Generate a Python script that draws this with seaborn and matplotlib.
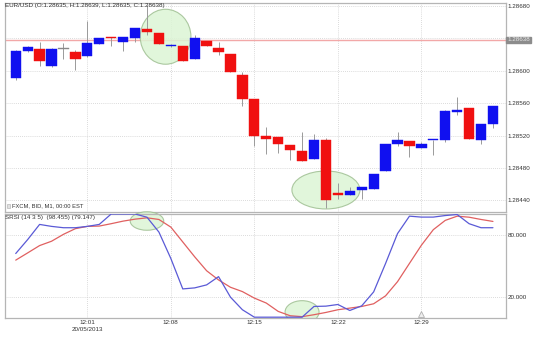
import numpy as np
import pandas as pd
import matplotlib
matplotlib.use("Agg")
import matplotlib.pyplot as plt
from matplotlib.patches import Ellipse, Rectangle
import matplotlib.transforms as mtransforms
import seaborn as sns

# ---------------- data ----------------
minutes = list(range(41))  # 11:55 ... 12:35, one candle per minute
opens = [1.28591, 1.28624, 1.28627, 1.28606, 1.28627, 1.28623, 1.28618, 1.28633, 1.28642, 1.28635,
         1.28640, 1.28652, 1.28647, 1.28630, 1.28630, 1.28614, 1.28637, 1.28628, 1.28621, 1.28595,
         1.28565, 1.28519, 1.28518, 1.28508, 1.28501, 1.28491, 1.28515, 1.28449, 1.28447, 1.28453,
         1.28454, 1.28476, 1.28510, 1.28513, 1.28504, 1.28514, 1.28514, 1.28549, 1.28554, 1.28515,
         1.28534]
highs = [1.28626, 1.28630, 1.28636, 1.28628, 1.28634, 1.28626, 1.28662, 1.28641, 1.28642, 1.28642,
         1.28653, 1.28681, 1.28647, 1.28633, 1.28630, 1.28644, 1.28637, 1.28635, 1.28621, 1.28599,
         1.28565, 1.28530, 1.28518, 1.28508, 1.28524, 1.28522, 1.28517, 1.28461, 1.28457, 1.28456,
         1.28473, 1.28509, 1.28524, 1.28513, 1.28512, 1.28515, 1.28552, 1.28567, 1.28554, 1.28534,
         1.28556]
lows = [1.28589, 1.28623, 1.28606, 1.28605, 1.28615, 1.28601, 1.28617, 1.28633, 1.28631, 1.28625,
        1.28635, 1.28644, 1.28633, 1.28629, 1.28612, 1.28614, 1.28630, 1.28620, 1.28598, 1.28556,
        1.28507, 1.28497, 1.28499, 1.28490, 1.28489, 1.28491, 1.28430, 1.28442, 1.28447, 1.28442,
        1.28454, 1.28476, 1.28507, 1.28494, 1.28504, 1.28496, 1.28512, 1.28545, 1.28516, 1.28510,
        1.28529]
closes = [1.28625, 1.28629, 1.28612, 1.28627, 1.28627, 1.28614, 1.28634, 1.28641, 1.28640, 1.28642,
          1.28653, 1.28648, 1.28633, 1.28632, 1.28612, 1.28640, 1.28630, 1.28623, 1.28598, 1.28565,
          1.28519, 1.28516, 1.28510, 1.28502, 1.28489, 1.28515, 1.28440, 1.28446, 1.28452, 1.28456,
          1.28473, 1.28509, 1.28514, 1.28507, 1.28509, 1.28515, 1.28550, 1.28552, 1.28516, 1.28534,
          1.28556]
srsi_k = [61.7, 75.2, 89.9, 88.0, 86.7, 86.7, 88.0, 89.9, 100.0, 100.0,
          100.0, 96.9, 82.5, 56.9, 27.4, 28.4, 31.3, 39.3, 19.4, 7.2,
          0.0, 0.0, 0.0, 0.0, 0.0, 10.4, 10.7, 12.3, 6.5, 11.0,
          24.5, 52.1, 81.0, 97.9, 97.0, 97.0, 98.5, 99.5, 90.6, 86.7,
          86.7]
srsi_d = [55.3, 62.3, 69.4, 73.6, 80.3, 85.8, 88.0, 88.3, 90.6, 93.1,
          95.0, 96.3, 94.7, 87.3, 72.9, 58.5, 45.0, 36.1, 29.0, 24.8,
          18.5, 13.7, 5.6, 1.4, 0.5, 2.4, 4.6, 7.2, 8.8, 10.4,
          13.0, 20.7, 34.4, 52.1, 69.7, 84.8, 93.8, 97.9, 96.9, 94.7,
          92.8]
time_tick_idx = [6, 13, 20, 27, 34]
time_tick_labels = ["12:01\n20/05/2013", "12:08", "12:15", "12:22", "12:29"]
price_ticks = [1.28440, 1.28480, 1.28520, 1.28560, 1.28600, 1.28640, 1.28680]
srsi_ticks = [20, 80]
last_price = 1.28638
title_text = "EUR/USD (O:1.28635, H:1.28639, L:1.28635, C:1.28638)"
source_text = "FXCM, BID, M1, 00:00 EST"
srsi_text = "SRSI (14 3 5)  (98.455) (79.147)"

# ---------------- style ----------------
sns.set_theme(style="white")
plt.rcParams['font.family'] = ['Liberation Sans', 'DejaVu Sans']
FS = 4.5
TXT = '#333333'
GRID = '#cfcfcf'
SPINE = '#b5b5b5'
BLUE = '#1010f0'
RED = '#f01010'

W, H = 533, 337
fig = plt.figure(figsize=(W / 100, H / 100), dpi=100)
fig.patch.set_facecolor('white')

def frac(l, t, r, b):
    return [l / W, 1 - b / H, (r - l) / W, (b - t) / H]

ax1 = fig.add_axes(frac(5, 3, 505.6, 212))
ax2 = fig.add_axes(frac(5, 214, 505.6, 317.7), sharex=ax1)

x = np.array(minutes, dtype=float)
o = np.array(opens); c = np.array(closes); hi = np.array(highs); lo = np.array(lows)

# ---------- top panel ----------
ax1.set_xlim(-0.9, 41.06)
ax1.set_ylim(1.284255, 1.286837)
for t in price_ticks:
    ax1.axhline(t, color=GRID, lw=0.6, ls=(0, (1, 1.5)), zorder=0)
for i in time_tick_idx:
    ax1.axvline(i, color=GRID, lw=0.6, ls=(0, (1, 1.5)), zorder=0)
ax1.axhline(last_price, color='#f2a8a8', lw=1.0, zorder=1)

ax1.add_patch(Ellipse((12.56, 1.286420), 4.25, 0.000679, facecolor='#dcf5d5',
                      edgecolor='#9fbf92', lw=0.8, alpha=0.85, zorder=1.5))
ax1.add_patch(Ellipse((26.0, 1.284527), 5.7, 0.000469, facecolor='#dcf5d5',
                      edgecolor='#9fbf92', lw=0.8, alpha=0.85, zorder=1.5))

colors = [BLUE if cc > oo else (RED if cc < oo else '#888888') for oo, cc in zip(o, c)]
ax1.vlines(x, lo, hi, color='#9a9a9a', lw=0.7, zorder=2)
body_bottom = np.minimum(o, c)
body_h = np.maximum(np.abs(c - o), 0.000012)
ax1.bar(x, body_h, bottom=body_bottom, width=0.86, color=colors, edgecolor=colors,
        lw=0.3, zorder=3)

ax1.yaxis.tick_right()
ax1.set_yticks(price_ticks)
ax1.set_yticklabels([f"{t:.5f}" if abs(t - 1.28640) > 1e-7 else "" for t in price_ticks])
ax1.tick_params(axis='y', length=0, pad=1.5, labelsize=FS, labelcolor=TXT)
ax1.tick_params(axis='x', length=0, labelbottom=False)
for s in ax1.spines.values():
    s.set_color(SPINE); s.set_linewidth(0.9)

ax1.text(0.0, 0.9885, title_text, transform=ax1.transAxes, fontsize=FS, color=TXT,
         ha='left', va='center')
ax1.text(0.014, 0.028, source_text, transform=ax1.transAxes, fontsize=FS * 0.92, color=TXT,
         ha='left', va='center')
ax1.add_patch(Rectangle((0.003, 0.018), 0.006, 0.022, transform=ax1.transAxes,
                        facecolor='#e0e0e0', edgecolor='#aaaaaa', lw=0.4, clip_on=False))
# last price box
ax1.text(1.003, (last_price - 1.284255) / (1.286837 - 1.284255), f"{last_price:.5f}",
         transform=ax1.transAxes, fontsize=FS, color='#e8e8e8', ha='left', va='center',
         bbox=dict(boxstyle='square,pad=0.12', facecolor='#8c8c8c', edgecolor='#8c8c8c'))

# ---------- lower panel ----------
df = pd.DataFrame({'minute': minutes * 2,
                   'value': srsi_k + srsi_d,
                   'series': ['K'] * len(minutes) + ['D'] * len(minutes)})
ax2.set_ylim(-0.5, 100)
for t in srsi_ticks:
    ax2.axhline(t, color=GRID, lw=0.6, ls=(0, (1, 1.5)), zorder=0)
for i in time_tick_idx:
    ax2.axvline(i, color=GRID, lw=0.6, ls=(0, (1, 1.5)), zorder=0)

ax2.add_patch(Ellipse((11.0, 93.2), 2.81, 17.9, facecolor='#dcf5d5', edgecolor='#9fbf92',
                      lw=0.8, alpha=0.85, zorder=1.5, clip_on=False))
ax2.add_patch(Ellipse((24.0, 5.0), 2.85, 22.0, facecolor='#dcf5d5', edgecolor='#9fbf92',
                      lw=0.8, alpha=0.85, zorder=1.5))

sns.lineplot(data=df, x='minute', y='value', hue='series',
             palette={'K': '#5a5ad6', 'D': '#e06060'}, hue_order=['D', 'K'],
             legend=False, lw=0.9, ax=ax2, zorder=3)
ax2.set_xlabel(''); ax2.set_ylabel('')

tr = mtransforms.blended_transform_factory(ax2.transData, ax2.transAxes)
ax2.plot([34], [0.035], marker='^', ms=5, mfc='#eeeeee', mec='#b0b0b0', mew=0.6,
         transform=tr, clip_on=False, zorder=4)

ax2.yaxis.tick_right()
ax2.set_yticks(srsi_ticks)
ax2.set_yticklabels([f"{t:.3f}" for t in srsi_ticks])
ax2.tick_params(axis='y', length=0, pad=1.5, labelsize=FS, labelcolor=TXT)
ax2.set_xticks(time_tick_idx)
ax2.set_xticklabels(time_tick_labels, linespacing=1.5, va='top')
ax2.tick_params(axis='x', length=0, pad=2.0, labelsize=FS, labelcolor=TXT)
for s in ax2.spines.values():
    s.set_color(SPINE); s.set_linewidth(0.9)
ax2.text(0.0, 0.965, srsi_text, transform=ax2.transAxes, fontsize=FS, color=TXT,
         ha='left', va='center')

fig.savefig('out.png', dpi=100, facecolor='white')
